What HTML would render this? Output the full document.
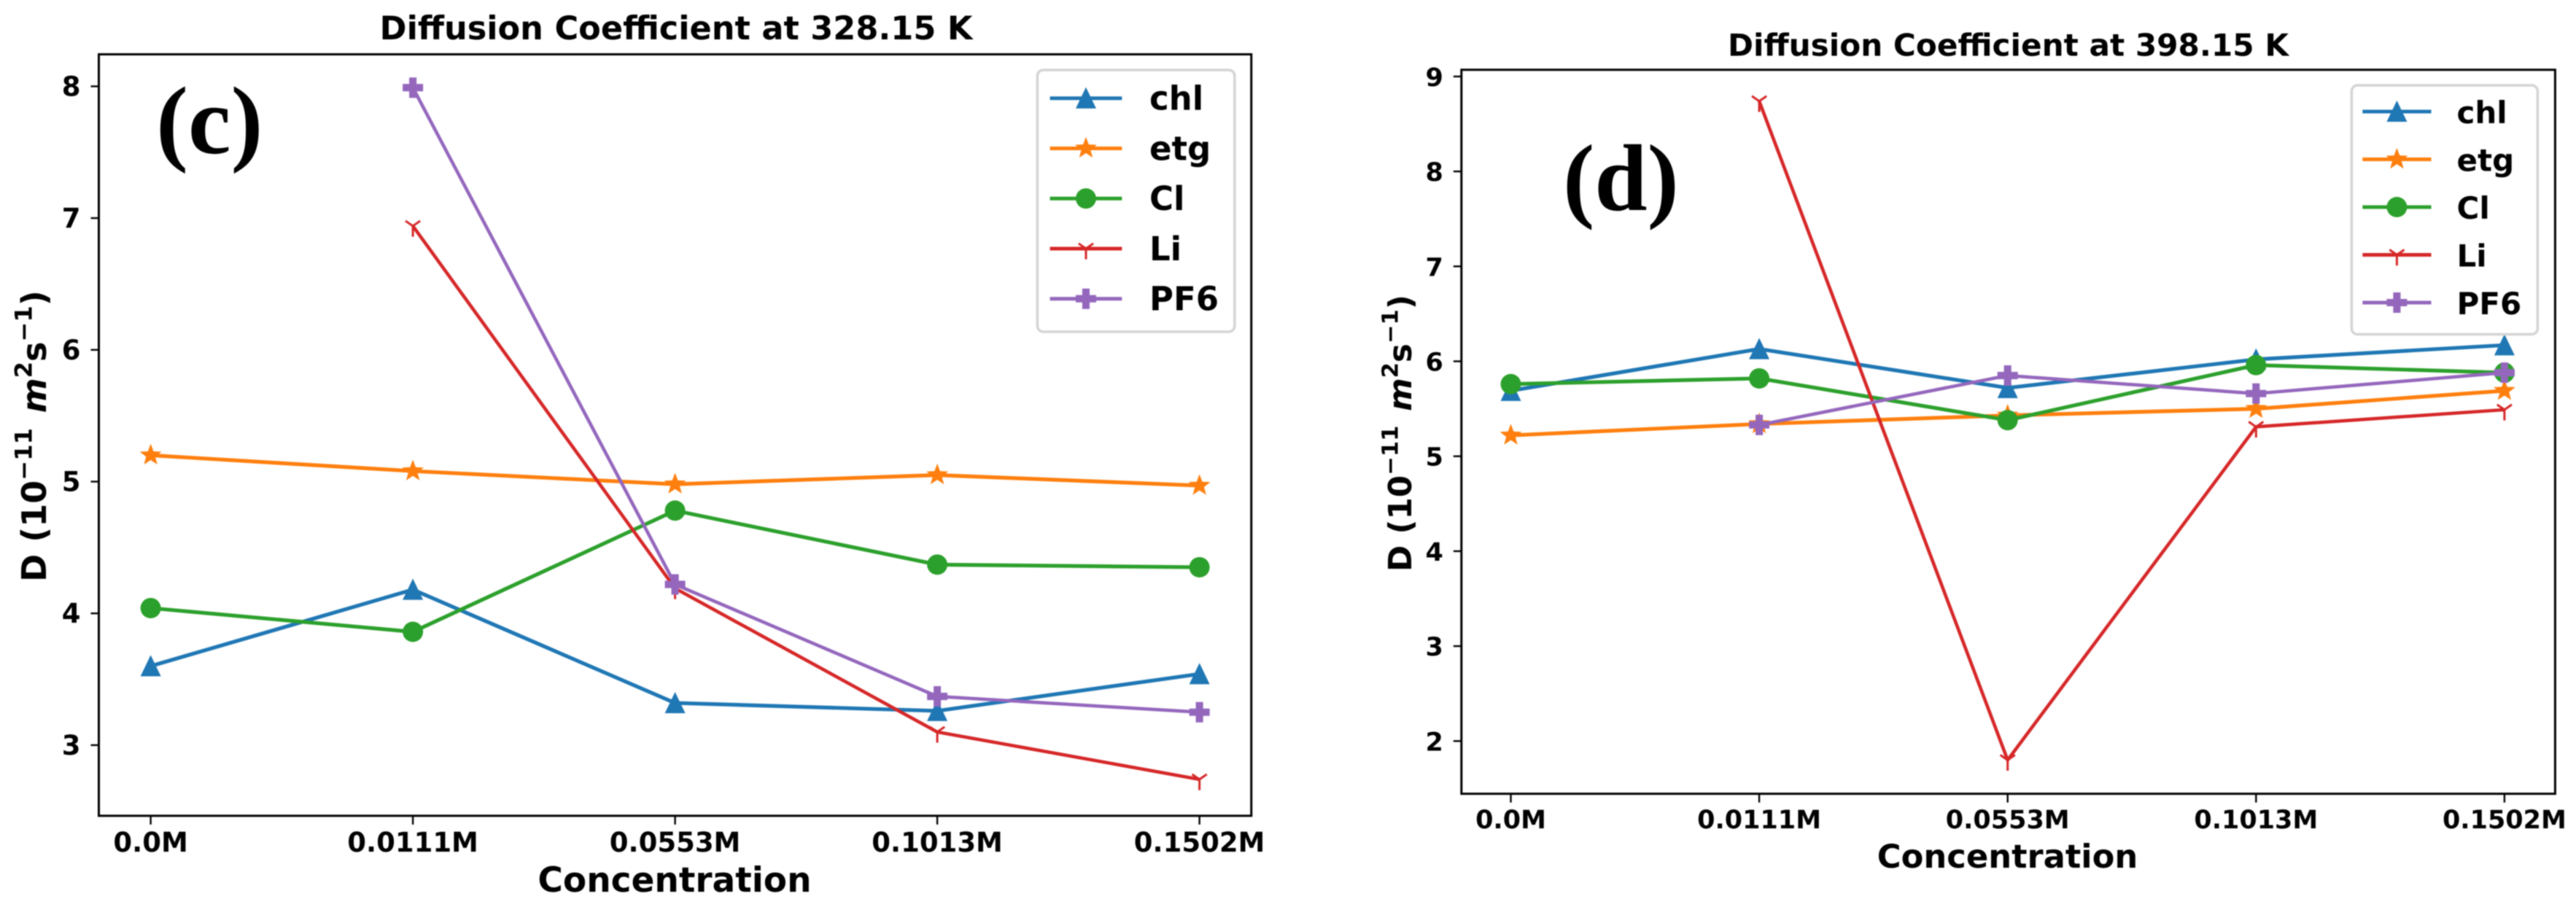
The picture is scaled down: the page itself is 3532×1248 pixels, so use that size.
<!DOCTYPE html>
<html lang="en">
<head>
<meta charset="utf-8">
<title>Diffusion Coefficient</title>
<style>
html,body{margin:0;padding:0;background:#fff;}
svg{display:block;width:3532px;height:1248px;filter:blur(0.7px);}
text{font-family:"DejaVu Sans","Liberation Sans",sans-serif;font-weight:bold;fill:#000;}
.anno{font-family:"Liberation Serif",serif;font-weight:bold;}
</style>
</head>
<body>
<svg id="figure" xmlns="http://www.w3.org/2000/svg" width="3532" height="1248" viewBox="0 0 3532 1248">
  <rect x="0" y="0" width="3532" height="1248" fill="#ffffff"/>
  <g id="panel-c"></g>
  <g id="panel-d"></g>
</svg>
<script>
const categories = ['0.0M', '0.0111M', '0.0553M', '0.1013M', '0.1502M'];
const seriesNames = ['chl', 'etg', 'Cl', 'Li', 'PF6'];
const seriesColors = ['#1f77b4', '#ff7f0e', '#2ca02c', '#d62728', '#9467bd'];
const seriesMarkers = ['triangle', 'star', 'circle', 'tri', 'plus'];

const yTicksC = [3, 4, 5, 6, 7, 8];
const chlC = [3.60, 4.18, 3.32, 3.26, 3.54];
const etgC = [5.20, 5.08, 4.98, 5.05, 4.97];
const clC = [4.04, 3.86, 4.78, 4.37, 4.35];
const liC = [null, 6.94, 4.19, 3.10, 2.74];
const pf6C = [null, 7.99, 4.22, 3.37, 3.25];

const yTicksD = [2, 3, 4, 5, 6, 7, 8, 9];
const chlD = [5.69, 6.13, 5.72, 6.02, 6.17];
const etgD = [5.22, 5.34, 5.43, 5.50, 5.69];
const clD = [5.76, 5.82, 5.38, 5.96, 5.88];
const liD = [null, 8.74, 1.80, 5.31, 5.49];
const pf6D = [null, 5.33, 5.85, 5.66, 5.88];

const SVG_NS = 'http://www.w3.org/2000/svg';

function mk(parent, tag, attrs, text) {
  const el = document.createElementNS(SVG_NS, tag);
  for (const k in attrs) el.setAttribute(k, attrs[k]);
  if (text !== undefined) el.textContent = text;
  parent.appendChild(el);
  return el;
}

function starPoints(r) {
  const pts = [];
  for (let i = 0; i < 10; i++) {
    const rad = i % 2 === 0 ? r : r * 0.42;
    const a = -Math.PI / 2 + i * Math.PI / 5;
    pts.push((rad * Math.cos(a)).toFixed(2) + ',' + (rad * Math.sin(a)).toFixed(2));
  }
  return pts.join(' ');
}

function drawMarker(parent, kind, color, x, y, r) {
  const g = mk(parent, 'g', { transform: 'translate(' + x.toFixed(2) + ' ' + y.toFixed(2) + ')' });
  
  
  if (kind === 'triangle') {
    mk(g, 'polygon', { points: '0,' + (-r * 1.08) + ' ' + r + ',' + r + ' ' + (-r) + ',' + r, fill: color });
  } else if (kind === 'circle') {
    mk(g, 'circle', { cx: 0, cy: 0, r: r, fill: color });
  } else if (kind === 'star') {
    mk(g, 'polygon', { points: starPoints(r * 1.12), fill: color });
  } else if (kind === 'plus') {
    const a = r * 0.36;
    const pts = [[-a, -r], [a, -r], [a, -a], [r, -a], [r, a], [a, a], [a, r], [-a, r], [-a, a], [-r, a], [-r, -a], [-a, -a]];
    mk(g, 'polygon', { points: pts.map(function (p) { return p.join(','); }).join(' '), fill: color });
  } else if (kind === 'tri') {
    const d = 'M0 0V' + (r * 1.05) + 'M0 0L' + (-r * 0.72) + ' ' + (-r * 0.5) + 'M0 0L' + (r * 0.72) + ' ' + (-r * 0.5);
    mk(g, 'path', { d: d, stroke: color, 'stroke-width': 3, fill: 'none' });
  }
  return g;
}

function drawPanel(root, cfg, yTicks, series) {
  const xOf = function (i) { return cfg.x0 + i * cfg.dx; };
  const yOf = function (v) { return cfg.y0 - (v - cfg.v0) * cfg.dy; };

  const title = mk(root, 'text', { x: cfg.titleX, y: cfg.titleY, 'text-anchor': 'middle', 'font-size': cfg.titleSize }, cfg.title);
  
  

  series.forEach(function (vals, s) {
    const pts = [];
    vals.forEach(function (v, i) { if (v !== null) pts.push(xOf(i).toFixed(2) + ',' + yOf(v).toFixed(2)); });
    const line = mk(root, 'polyline', { points: pts.join(' '), fill: 'none', stroke: seriesColors[s], 'stroke-width': s >= 3 ? 4.6 : 5.2, 'stroke-linejoin': 'round' });
    
    
    vals.forEach(function (v, i) {
      if (v !== null) drawMarker(root, seriesMarkers[s], seriesColors[s], xOf(i), yOf(v), 14);
    });
  });

  const spines = mk(root, 'rect', { x: cfg.left, y: cfg.top, width: cfg.right - cfg.left, height: cfg.bottom - cfg.top, fill: 'none', stroke: '#000', 'stroke-width': 3 });
  
  

  yTicks.forEach(function (t) {
    const y = yOf(t);
    const tick = mk(root, 'line', { x1: cfg.left - 11, x2: cfg.left, y1: y, y2: y, stroke: '#000', 'stroke-width': 2.4 });
    
    
    const lab = mk(root, 'text', { x: cfg.left - 25, y: y + 13, 'text-anchor': 'end', 'font-size': cfg.tickSize }, String(t));
    
    
  });

  categories.forEach(function (c, i) {
    const x = xOf(i);
    const tick = mk(root, 'line', { x1: x, x2: x, y1: cfg.bottom, y2: cfg.bottom + 12, stroke: '#000', 'stroke-width': 2.4 });
    
    
    const lab = mk(root, 'text', { x: x, y: cfg.xTickY, 'text-anchor': 'middle', 'font-size': cfg.tickSize }, c);
    
    
  });

  const xl = mk(root, 'text', { x: cfg.xLabelX, y: cfg.xLabelY, 'text-anchor': 'middle', 'font-size': cfg.labelSize }, 'Concentration');
  
  

  const yl = mk(root, 'text', { transform: 'translate(' + cfg.yLabelX + ' ' + cfg.yLabelY + ') rotate(-90)', 'font-size': cfg.yLabelSize });
  
  
  const sup = cfg.yLabelSize * 0.7;
  const rise = cfg.yLabelSize * 0.42;
  mk(yl, 'tspan', {}, 'D (10');
  mk(yl, 'tspan', { 'font-size': sup, dy: -rise }, '\u221211');
  mk(yl, 'tspan', { dy: rise, 'font-style': 'italic', dx: cfg.yLabelSize * 0.45 }, 'm');
  mk(yl, 'tspan', { 'font-size': sup, dy: -rise }, '2');
  mk(yl, 'tspan', { dy: rise }, 's');
  mk(yl, 'tspan', { 'font-size': sup, dy: -rise }, '\u22121');
  mk(yl, 'tspan', { dy: rise }, ')');

  const anno = mk(root, 'text', { x: cfg.annoX, y: cfg.annoY, 'font-size': cfg.annoSize, class: 'anno' }, cfg.anno);
  
  

  const legend = mk(root, 'g', {});
  
  
  const box = mk(legend, 'rect', { x: cfg.legX, y: cfg.legY, width: cfg.legW, height: cfg.legH, rx: 8, ry: 8, fill: '#fff', stroke: '#d4d4d4', 'stroke-width': 3.5 });
  
  
  seriesNames.forEach(function (name, s) {
    const y = cfg.legRow0 + s * cfg.legRowH;
    const entry = mk(legend, 'g', {});
    
    
    mk(entry, 'line', { x1: cfg.legLine0, x2: cfg.legLine1, y1: y, y2: y, stroke: seriesColors[s], 'stroke-width': 5 });
    drawMarker(entry, seriesMarkers[s], seriesColors[s], (cfg.legLine0 + cfg.legLine1) / 2, y, 14);
    mk(entry, 'text', { x: cfg.legText, y: y + 16, 'font-size': cfg.legSize }, name);
  });
}

drawPanel(document.getElementById('panel-c'), {
  title: 'Diffusion Coefficient at 328.15 K', titleX: 927, titleY: 54, titleSize: 44.6,
  left: 135.5, right: 1715.7, top: 74.5, bottom: 1118.8,
  x0: 206.6, dx: 359.5, y0: 1021.9, v0: 3, dy: 180.7,
  tickSize: 37, xTickY: 1168, xLabelX: 925, xLabelY: 1223, labelSize: 47,
  yLabelX: 63, yLabelY: 798, yLabelSize: 46,
  anno: '(c)', annoX: 214, annoY: 210, annoSize: 132,
  legX: 1422.4, legY: 96, legW: 270.4, legH: 359, legRow0: 134.7, legRowH: 68.75,
  legLine0: 1439.6, legLine1: 1538.3, legText: 1576, legSize: 45
}, yTicksC, [chlC, etgC, clC, liC, pf6C]);

drawPanel(document.getElementById('panel-d'), {
  title: 'Diffusion Coefficient at 398.15 K', titleX: 2753.5, titleY: 76.5, titleSize: 42.2,
  left: 2003.8, right: 3503.4, top: 95.7, bottom: 1088.6,
  x0: 2071.5, dx: 340.6, y0: 1016.3, v0: 2, dy: 130.2,
  tickSize: 35, xTickY: 1136, xLabelX: 2752.5, xLabelY: 1190, labelSize: 44.8,
  yLabelX: 1935, yLabelY: 784, yLabelSize: 43.7,
  anno: '(d)', annoX: 2143, annoY: 288, annoSize: 130,
  legX: 3224.4, legY: 117, legW: 255, legH: 341.5, legRow0: 153, legRowH: 65.5,
  legLine0: 3239.3, legLine1: 3333.5, legText: 3368.5, legSize: 42
}, yTicksD, [chlD, etgD, clD, liD, pf6D]);
</script>
</body>
</html>
